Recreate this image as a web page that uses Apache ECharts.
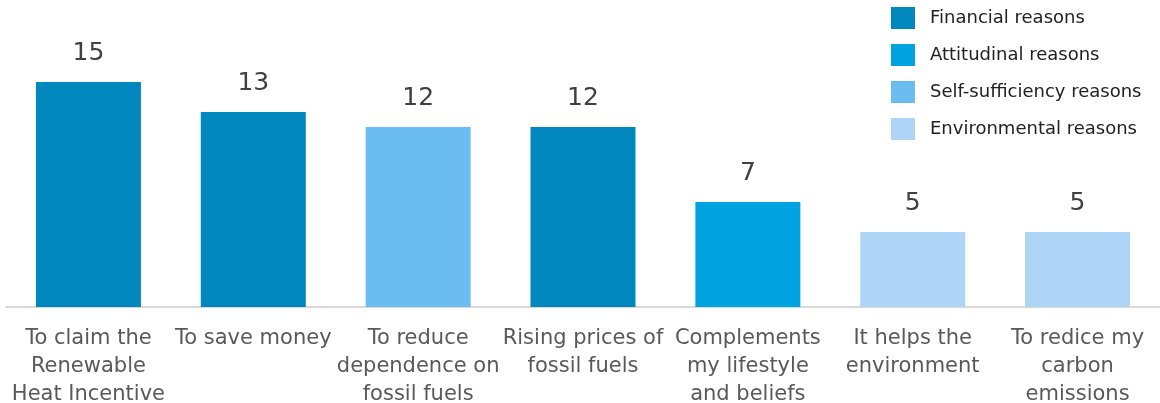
<!DOCTYPE html>
<html lang="en">
<head>
    <meta charset="UTF-8">
    <title>Reasons for installing</title>
    <style>
        * { margin: 0; padding: 0; }
        #chart { width: 1160px; height: 403px; }
    </style>
    <script src="https://cdn.jsdelivr.net/npm/echarts@6/dist/echarts.min.js"></script>
</head>
<body>
    <div id="chart"></div>
    <script>
        // categories and values
        var categories = [
            'To claim the\nRenewable\nHeat Incentive',
            'To save money',
            'To reduce\ndependence on\nfossil fuels',
            'Rising prices of\nfossil fuels',
            'Complements\nmy lifestyle\nand beliefs',
            'It helps the\nenvironment',
            'To redice my\ncarbon\nemissions'
        ];
        var values = [15, 13, 12, 12, 7, 5, 5];
        // which reason group each bar belongs to (index into groups)
        var groupOf = [0, 0, 2, 0, 1, 3, 3];
        var groups = ['Financial reasons', 'Attitudinal reasons', 'Self-sufficiency reasons', 'Environmental reasons'];
        var colors = ['#0087bd', '#00a2e0', '#6bbcf0', '#aed5f5'];

        var chart = echarts.init(document.getElementById('chart'));
        var font = 'DejaVu Sans';

        var series = groups.map(function (g, gi) {
            return {
                name: g,
                type: 'bar',
                stack: 'all',
                barWidth: 105,
                itemStyle: { color: colors[gi] },
                label: {
                    show: true,
                    position: 'top',
                    distance: 16,
                    fontFamily: font,
                    fontSize: 25,
                    color: '#404040'
                },
                data: values.map(function (v, i) { return groupOf[i] === gi ? v : null; })
            };
        });

        chart.setOption({
            animation: false,
            grid: { left: 6, right: 0, top: 7, bottom: 96, outerBoundsMode: 'none' },
            legend: {
                orient: 'vertical',
                left: 891,
                top: 7,
                padding: 0,
                itemWidth: 24,
                itemHeight: 22,
                itemGap: 15,
                icon: 'rect',
                textStyle: { fontFamily: font, fontSize: 18, color: '#222', padding: [0, 0, 0, 10] },
                data: groups
            },
            xAxis: {
                type: 'category',
                data: categories,
                axisLine: { lineStyle: { color: '#d9d9d9', width: 2 } },
                axisTick: { show: false },
                axisLabel: {
                    interval: 0,
                    margin: 18,
                    fontFamily: font,
                    fontSize: 21,
                    lineHeight: 28,
                    color: '#595959'
                }
            },
            yAxis: {
                type: 'value',
                min: 0,
                max: 20,
                show: false,
                splitLine: { show: false }
            },
            series: series
        });
    </script>
</body>
</html>
